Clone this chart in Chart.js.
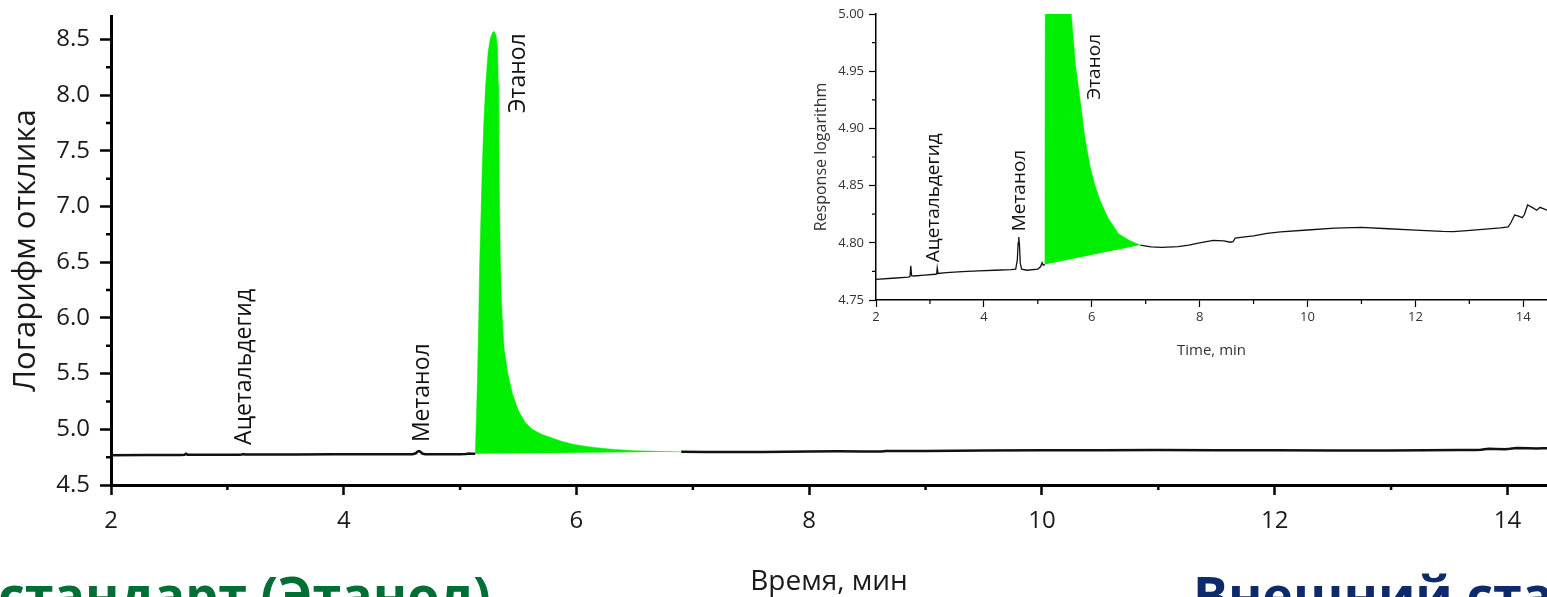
<!DOCTYPE html>
<html>
<head>
<meta charset="utf-8">
<script src="https://cdn.jsdelivr.net/npm/chart.js@4/dist/chart.umd.min.js"></script>
<style>
  body { margin: 0; background: #fff; overflow: hidden; }
  #wrap { position: relative; width: 1547px; height: 597px; }
  #main { position: absolute; left: 0; top: 0; }
  #inset { position: absolute; left: 800px; top: 0; }
</style>
</head>
<body>
<div id="wrap">
  <canvas id="main" width="1547" height="597"></canvas>
  <canvas id="inset" width="747" height="370"></canvas>
</div>
<script>
// chromatogram, time in min, log response
let beforeTime = [2.0, 2.3, 2.6, 2.63, 2.645, 2.66, 2.7, 2.9, 3.1, 3.125, 3.135, 3.15, 3.3, 3.6, 3.9, 4.2, 4.5, 4.59, 4.62, 4.635, 4.647, 4.66, 4.675, 4.7, 4.8, 5.0, 5.05, 5.08, 5.1, 5.13];
let beforeResp = [4.768, 4.769, 4.770, 4.7705, 4.780, 4.7712, 4.771, 4.7718, 4.7725, 4.7728, 4.778, 4.7732, 4.774, 4.7748, 4.7755, 4.776, 4.7765, 4.777, 4.785, 4.800, 4.805, 4.798, 4.782, 4.777, 4.776, 4.777, 4.779, 4.7826, 4.7805, 4.781];

let ethanolTime = [5.13, 5.14, 5.15, 5.16, 5.167, 5.18, 5.19, 5.205, 5.22, 5.24, 5.26, 5.28, 5.295, 5.31, 5.322, 5.328, 5.333, 5.338, 5.345, 5.355, 5.367, 5.38, 5.41, 5.45, 5.5, 5.56, 5.62, 5.7, 5.785, 5.87, 5.97, 6.06, 6.156, 6.3, 6.496, 6.7, 6.9];
let ethanolResp = [4.781, 5.10, 5.50, 6.00, 6.45, 6.95, 7.35, 7.78, 8.10, 8.38, 8.51, 8.565, 8.57, 8.53, 8.42, 8.10, 7.65, 7.10, 6.55, 6.16, 5.90, 5.71, 5.50, 5.32, 5.17, 5.06, 5.00, 4.955, 4.925, 4.893, 4.8665, 4.85, 4.837, 4.822, 4.808, 4.802, 4.798];

// valley-to-valley drop line under the ethanol peak
let dropTime = [5.13, 6.9];
let dropResp = [4.781, 4.798];

let afterTime = [6.9, 7.1, 7.3, 7.6, 7.8, 8.0, 8.25, 8.45, 8.57, 8.62, 8.66, 8.8, 9.0, 9.25, 9.5, 10.0, 10.5, 11.0, 11.5, 12.0, 12.5, 12.7, 12.96, 13.3, 13.58, 13.72, 13.77, 13.84, 13.9, 13.98, 14.02, 14.08, 14.18, 14.25, 14.31, 14.44];
let afterResp = [4.798, 4.7965, 4.796, 4.7966, 4.798, 4.800, 4.8022, 4.8017, 4.8005, 4.801, 4.8042, 4.805, 4.806, 4.8083, 4.8095, 4.8112, 4.8128, 4.8135, 4.8123, 4.811, 4.8099, 4.8097, 4.8106, 4.812, 4.8131, 4.814, 4.8175, 4.8243, 4.8235, 4.822, 4.8245, 4.833, 4.8305, 4.8285, 4.831, 4.8285];

let peakNames = ["Ацетальдегид", "Метанол", "Этанол"];
let mainLabelTime = [3.15, 4.68, 5.5];
let mainLabelResp = [4.86, 4.885, 7.84];
let insetLabelTime = [3.076, 4.67, 6.05];
let insetLabelResp = [4.783, 4.81, 4.925];

Chart.defaults.font.family = "'Open Sans', sans-serif";
Chart.defaults.animation = false;

function pts(xs, ys) {
  return xs.map((t, i) => ({ x: t, y: ys[i] }));
}

// small ticks half way between the labelled ones
const minorTicks = {
  id: "minorTicks",
  afterDraw(chart, args, opts) {
    const ctx = chart.ctx;
    const x = chart.scales.x;
    const y = chart.scales.y;
    const area = chart.chartArea;
    ctx.save();
    ctx.strokeStyle = "#000";
    ctx.lineWidth = opts.width;
    ctx.beginPath();
    for (let v = x.min + opts.xStep / 2; v < x.max; v += opts.xStep) {
      let px = x.getPixelForValue(v);
      ctx.moveTo(px, area.bottom);
      ctx.lineTo(px, area.bottom + opts.len);
    }
    for (let v = y.min + opts.yStep / 2; v < y.max; v += opts.yStep) {
      let py = y.getPixelForValue(v);
      ctx.moveTo(area.left, py);
      ctx.lineTo(area.left - opts.len, py);
    }
    ctx.stroke();
    ctx.restore();
  },
};

// rotated peak names
const peakLabels = {
  id: "peakLabels",
  afterDatasetsDraw(chart, args, opts) {
    const ctx = chart.ctx;
    const x = chart.scales.x;
    const y = chart.scales.y;
    ctx.save();
    ctx.font = opts.font;
    ctx.fillStyle = "#111";
    ctx.textAlign = "left";
    ctx.textBaseline = "middle";
    opts.names.forEach((name, i) => {
      ctx.save();
      ctx.translate(x.getPixelForValue(opts.times[i]), y.getPixelForValue(opts.values[i]));
      ctx.rotate(-Math.PI / 2);
      ctx.fillText(name, 0, 0);
      ctx.restore();
    });
    ctx.restore();
  },
};

// slide headings cut by the bottom edge
const slideText = {
  id: "slideText",
  afterDraw(chart) {
    const ctx = chart.ctx;
    ctx.save();
    ctx.font = "bold 52px 'Open Sans'";
    ctx.textBaseline = "alphabetic";
    ctx.fillStyle = "#006f35";
    ctx.fillText("стандарт (Этанол)", -2, 614);
    ctx.fillStyle = "#0d2a6b";
    ctx.fillText("Внешний стандарт", 1193, 614);
    ctx.restore();
  },
};

function lineSet(data, color, width) {
  return { data: data, borderColor: color, borderWidth: width, pointRadius: 0, fill: false, tension: 0 };
}

function buildDatasets(lw) {
  return [
    lineSet(pts(beforeTime, beforeResp), "#111", lw),
    lineSet(pts(afterTime, afterResp), "#111", lw),
    {
      data: pts(ethanolTime, ethanolResp),
      borderColor: "#00ee00",
      borderWidth: 0.5,
      backgroundColor: "#00ee00",
      pointRadius: 0,
      fill: "+1",
    },
    { data: pts(dropTime, dropResp), borderWidth: 0, borderColor: "rgba(0,0,0,0)", pointRadius: 0, fill: false },
  ];
}

// fixed axis boxes, no extra room for edge labels
function fixX(h) {
  return (s) => { s.height = h; s.paddingLeft = 0; s.paddingRight = 0; };
}
function fixY(w) {
  return (s) => { s.width = w; s.paddingTop = 0; s.paddingBottom = 0; };
}

new Chart(document.getElementById("main"), {
  type: "line",
  data: { datasets: buildDatasets(2.5) },
  options: {
    responsive: false,
    layout: { padding: { top: 16, right: 0, left: 0, bottom: 0 } },
    plugins: {
      legend: { display: false },
      tooltip: { enabled: false },
      minorTicks: { xStep: 2, yStep: 0.5, len: 5, width: 2.5 },
      peakLabels: { names: peakNames, times: mainLabelTime, values: mainLabelResp, font: "23px 'Open Sans'" },
    },
    scales: {
      x: {
        type: "linear",
        min: 2,
        max: 14.34,
        ticks: { stepSize: 2, includeBounds: false, padding: 12, color: "#1a1a1a", font: { size: 24 } },
        grid: { drawOnChartArea: false, tickLength: 10, tickWidth: 2.5, tickColor: "#000" },
        border: { color: "#000", width: 3 },
        title: { display: true, text: "Время, мин", color: "#1a1a1a", font: { size: 28 }, padding: { bottom: -2 } },
        afterFit: fixX(112),
      },
      y: {
        min: 4.5,
        max: 8.71,
        ticks: { stepSize: 0.5, includeBounds: false, padding: 10, color: "#1a1a1a", font: { size: 24 }, callback: (v) => v.toFixed(1) },
        grid: { drawOnChartArea: false, tickLength: 11, tickWidth: 2.5, tickColor: "#000" },
        border: { color: "#000", width: 3 },
        title: { display: true, text: "Логарифм отклика", color: "#1a1a1a", font: { size: 31 }, padding: { top: 8 } },
        afterFit: fixY(111),
      },
    },
  },
  plugins: [minorTicks, peakLabels, slideText],
});

new Chart(document.getElementById("inset"), {
  type: "line",
  data: { datasets: buildDatasets(1.3) },
  options: {
    responsive: false,
    layout: { padding: { top: 14, right: 0, left: 0, bottom: 0 } },
    plugins: {
      legend: { display: false },
      tooltip: { enabled: false },
      minorTicks: { xStep: 2, yStep: 0.05, len: 4, width: 1.2 },
      peakLabels: { names: peakNames, times: insetLabelTime, values: insetLabelResp, font: "19px 'Open Sans'" },
    },
    scales: {
      x: {
        type: "linear",
        min: 2,
        max: 14.44,
        ticks: { stepSize: 2, includeBounds: false, padding: 2, color: "#333", font: { size: 13 } },
        grid: { drawOnChartArea: false, tickLength: 7, tickWidth: 1.2, tickColor: "#000" },
        border: { color: "#000", width: 1.5 },
        title: { display: true, text: "Time, min", color: "#333", font: { size: 15 }, padding: { bottom: 10 } },
        afterFit: fixX(70),
      },
      y: {
        min: 4.75,
        max: 5.0,
        ticks: { stepSize: 0.05, padding: 5, color: "#333", font: { size: 13 }, callback: (v) => v.toFixed(2) },
        grid: { drawOnChartArea: false, tickLength: 7, tickWidth: 1.2, tickColor: "#000" },
        border: { color: "#000", width: 1.5 },
        title: { display: true, text: "Response logarithm", color: "#333", font: { size: 16 }, padding: { top: 12 } },
        afterFit: fixY(76),
      },
    },
  },
  plugins: [minorTicks, peakLabels],
});
</script>
</body>
</html>
